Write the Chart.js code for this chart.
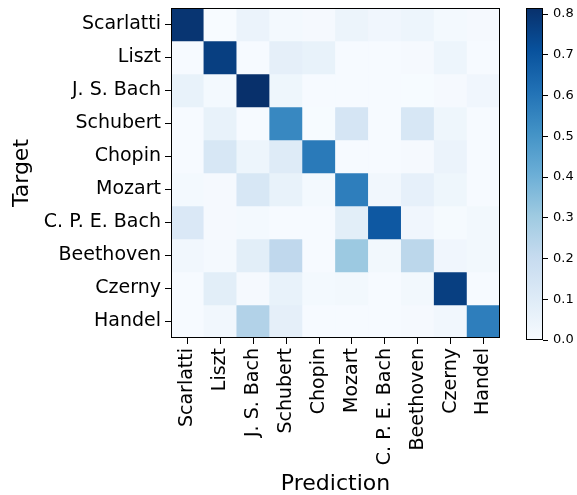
<!DOCTYPE html>
<html>
<head>
<meta charset="utf-8">
<script src="https://cdn.jsdelivr.net/npm/chart.js@4"></script>
<style>
  html, body { margin: 0; padding: 0; background: #fff; }
  #wrap { position: relative; width: 577px; height: 495px; }
  #matrix { position: absolute; left: 0; top: 0; }
  #cbar { position: absolute; left: 500px; top: 0; }
</style>
</head>
<body>
<div id="wrap">
  <canvas id="matrix" width="510" height="495"></canvas>
  <canvas id="cbar" width="77" height="350"></canvas>
</div>
<script>
// ─── Data ───
const targets = ['Scarlatti', 'Liszt', 'J. S. Bach', 'Schubert', 'Chopin',
                 'Mozart', 'C. P. E. Bach', 'Beethoven', 'Czerny', 'Handel'];
const predictions = targets.slice();

// rows = target, columns = prediction
const scarlattiRow = [0.80, 0.000, 0.050, 0.015, 0.010, 0.045, 0.030, 0.040, 0.015, 0.010];
const lisztRow     = [0.005, 0.77, 0.005, 0.075, 0.060, 0.005, 0.005, 0.010, 0.040, 0.005];
const jsBachRow    = [0.060, 0.015, 0.815, 0.035, 0.005, 0.005, 0.005, 0.003, 0.010, 0.030];
const schubertRow  = [0.005, 0.060, 0.005, 0.54, 0.003, 0.140, 0.005, 0.130, 0.035, 0.005];
const chopinRow    = [0.005, 0.130, 0.040, 0.100, 0.585, 0.005, 0.005, 0.010, 0.050, 0.005];
const mozartRow    = [0.015, 0.010, 0.130, 0.060, 0.015, 0.57, 0.025, 0.070, 0.035, 0.005];
const cpeBachRow   = [0.120, 0.010, 0.015, 0.005, 0.005, 0.085, 0.69, 0.030, 0.008, 0.020];
const beethovenRow = [0.025, 0.012, 0.085, 0.220, 0.005, 0.310, 0.020, 0.230, 0.030, 0.020];
const czernyRow    = [0.005, 0.085, 0.010, 0.060, 0.015, 0.020, 0.005, 0.020, 0.77, 0.005];
const handelRow    = [0.005, 0.025, 0.255, 0.075, 0.005, 0.005, 0.005, 0.010, 0.025, 0.57];

const confusion = [scarlattiRow, lisztRow, jsBachRow, schubertRow, chopinRow,
                   mozartRow, cpeBachRow, beethovenRow, czernyRow, handelRow];

const vmax = 0.815;
const cbarTicks = [0, 0.1, 0.2, 0.3, 0.4, 0.5, 0.6, 0.7, 0.8];

// ─── Blues colormap ───
const bluesStops = [
  [247, 251, 255], [222, 235, 247], [198, 219, 239], [158, 202, 225], [107, 174, 214],
  [66, 146, 198], [33, 113, 181], [8, 81, 156], [8, 48, 107]
];
function blues(t) {
  t = Math.max(0, Math.min(1, t));
  const pos = t * (bluesStops.length - 1);
  const i = Math.min(Math.floor(pos), bluesStops.length - 2);
  const f = pos - i;
  const a = bluesStops[i], b = bluesStops[i + 1];
  const c = a.map((v, k) => Math.round(v + (b[k] - v) * f));
  return `rgb(${c[0]},${c[1]},${c[2]})`;
}

const FONT = "'DejaVu Sans'";
Chart.defaults.font.family = FONT;
Chart.defaults.color = '#000';

// black frame round the plot area, like matplotlib spines
const frame = {
  id: 'frame',
  afterDraw(chart) {
    const { ctx, chartArea: a } = chart;
    ctx.save();
    ctx.strokeStyle = '#000';
    ctx.lineWidth = 1;
    ctx.strokeRect(a.left + 0.5, a.top + 0.5, a.right - a.left - 1, a.bottom - a.top - 1);
    ctx.restore();
  }
};

// ─── Confusion matrix ───
const datasets = confusion.map((row, i) => ({
  label: targets[i],
  data: row.map(() => 1),
  backgroundColor: row.map(v => blues(v / vmax)),
  borderWidth: 0,
  barPercentage: 1,
  categoryPercentage: 1,
}));

new Chart(document.getElementById('matrix'), {
  type: 'bar',
  data: { labels: predictions, datasets },
  options: {
    responsive: false,
    animation: false,
    layout: { padding: { top: 8, right: 10, left: 0, bottom: 0 } },
    plugins: { legend: { display: false }, tooltip: { enabled: false } },
    scales: {
      x: {
        stacked: true,
        border: { display: false },
        grid: { display: true, drawOnChartArea: false, offset: false, tickLength: 6, color: '#000' },
        ticks: { autoSkip: false, maxRotation: 90, minRotation: 90, padding: 4,
                 font: { size: 19 }, color: '#000' },
        title: { display: true, text: 'Prediction', font: { size: 22, lineHeight: 1 },
                 color: '#000', padding: { top: 0, bottom: 0 } },
        afterFit: (scale) => {
          scale.height = 157;
          scale.paddingLeft = 0;
          scale.paddingRight = 0;
        },
      },
      y: {
        stacked: true,
        reverse: true,
        min: 0,
        max: targets.length,
        border: { display: false },
        grid: { display: true, drawOnChartArea: false, tickLength: 6, color: '#000' },
        afterBuildTicks: (scale) => {
          scale.ticks = targets.map((_, i) => ({ value: i + 0.5 }));
        },
        ticks: { autoSkip: false, padding: 4, font: { size: 19 }, color: '#000',
                 callback: (v) => targets[Math.floor(v)] },
        title: { display: true, text: 'Target', font: { size: 22, lineHeight: 1 },
                 color: '#000', padding: { top: 11, bottom: 0 } },
        afterFit: (scale) => {
          scale.width = 171;
          scale.paddingTop = 0;
          scale.paddingBottom = 0;
        },
      },
    },
  },
  plugins: [frame],
});

// ─── Colorbar ───
const gradientFill = {
  id: 'gradientFill',
  beforeDatasetsDraw(chart) {
    const { ctx, chartArea: a } = chart;
    const g = ctx.createLinearGradient(0, a.bottom, 0, a.top);
    bluesStops.forEach((_, i) => {
      const t = i / (bluesStops.length - 1);
      g.addColorStop(t, blues(t));
    });
    ctx.save();
    ctx.fillStyle = g;
    ctx.fillRect(a.left, a.top, a.right - a.left, a.bottom - a.top);
    ctx.restore();
  }
};

new Chart(document.getElementById('cbar'), {
  type: 'bar',
  data: { labels: [''], datasets: [] },
  options: {
    responsive: false,
    animation: false,
    layout: { padding: { left: 26, top: 8, bottom: 10, right: 0 } },
    plugins: { legend: { display: false }, tooltip: { enabled: false } },
    scales: {
      x: { display: false },
      y: {
        position: 'right',
        min: 0,
        max: vmax,
        border: { display: false },
        grid: { display: true, drawOnChartArea: false, tickLength: 5, color: '#000' },
        afterBuildTicks: (scale) => {
          scale.ticks = cbarTicks.map(v => ({ value: v }));
        },
        ticks: { padding: 5, font: { size: 13 }, color: '#000',
                 callback: (v) => v.toFixed(1) },
        afterFit: (scale) => {
          scale.width = 34;
          scale.paddingTop = 0;
          scale.paddingBottom = 0;
        },
      },
    },
  },
  plugins: [gradientFill, frame],
});
</script>
</body>
</html>
